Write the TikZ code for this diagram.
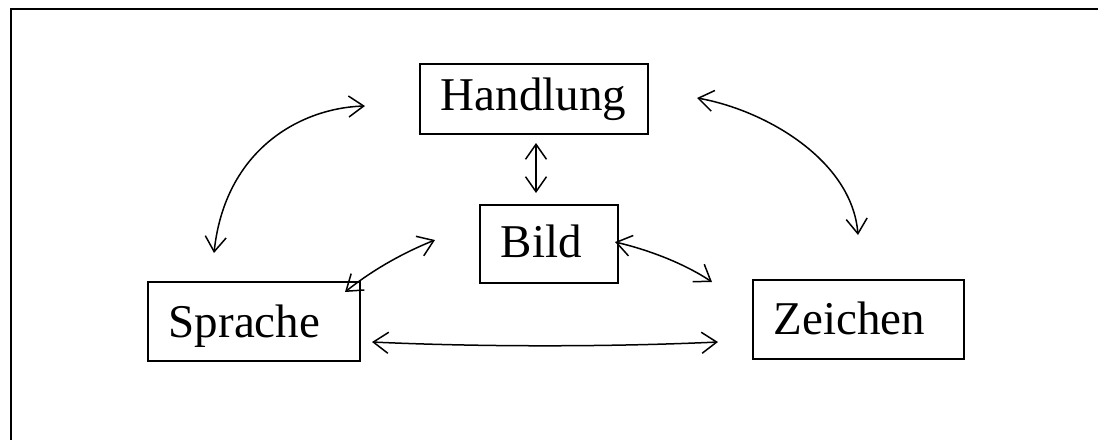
\documentclass[tikz,border=0pt]{standalone}
\usepackage{fontspec}
\setmainfont{Liberation Serif}
\usetikzlibrary{arrows.meta}
\begin{document}
\begin{tikzpicture}[x=1pt,y=-1pt,
  box/.style={draw, line width=1.6pt, inner xsep=21pt, inner ysep=0pt, align=left,
    anchor=north west, font=\fontsize{47}{56}\selectfont},
  conn/.style={line width=1.5pt, {Straight Barb[length=15pt,width=21pt]}-{Straight Barb[length=15pt,width=21pt]}}]
\useasboundingbox (0,0) rectangle (1098,440);
% frame
\draw[line width=2pt] (11,440) -- (11,9) -- (1098,9);
% boxes
\node[box, text width=186pt, text height=47pt, text depth=23pt] (H) at (419,63) {Handlung};
\node[box, text width=96pt, text height=53pt, text depth=25pt] (B) at (479,204) {Bild};
\node[box, text width=170pt, text height=56pt, text depth=23pt] (S) at (147,281) {Sprache};
\node[box, text width=169pt, text height=55pt, text depth=24pt] (Z) at (752,279) {Zeichen};
% connector end points
\coordinate (a1) at (536,143);
\coordinate (a2) at (536,193);
\coordinate (L1) at (365,106);
\coordinate (L2) at (214,253);
\coordinate (R1) at (697,98);
\coordinate (R2) at (858,235);
\coordinate (BS1) at (435,240);
\coordinate (BS2) at (345,292);
\coordinate (BZ1) at (615,242);
\coordinate (BZ2) at (712,282);
\coordinate (SZ1) at (372,342);
\coordinate (SZ2) at (718,342);
% connectors
\draw[conn] (a1) -- (a2);
\draw[conn] (L1) .. controls (300,108) and (225,150) .. (L2);
\draw[conn] (R1) .. controls (765,110) and (852,160) .. (R2);
\draw[conn] (BS2) .. controls (370,272) and (400,254) .. (BS1);
\draw[conn] (BZ1) .. controls (645,249) and (682,262) .. (BZ2);
\draw[conn] (SZ1) .. controls (480,347) and (610,347) .. (SZ2);
\end{tikzpicture}
\end{document}
